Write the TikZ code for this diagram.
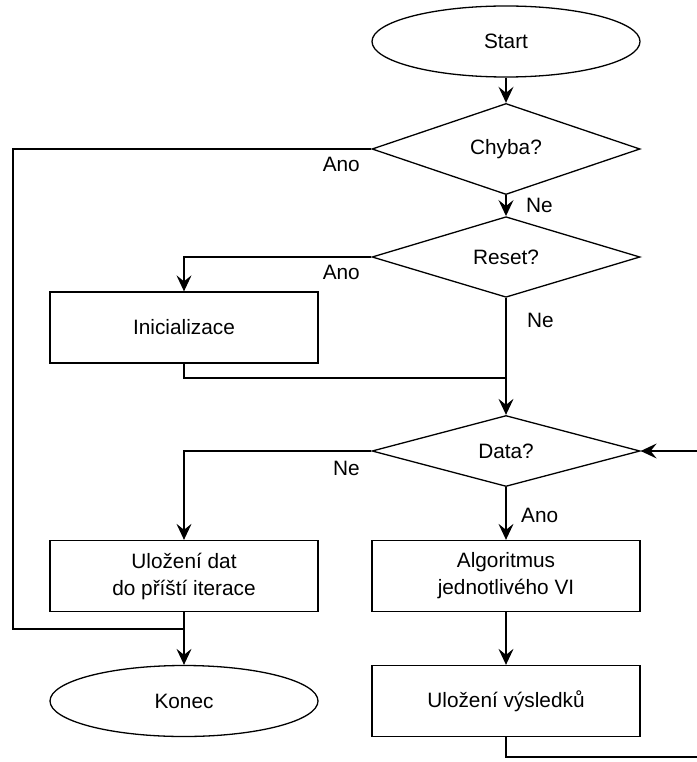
\documentclass[tikz,border=0pt]{standalone}
\usepackage{fontspec}
\setmainfont{Liberation Sans}
\usetikzlibrary{shapes.geometric,arrows.meta}
\begin{document}
\begin{tikzpicture}[x=1pt,y=-1pt,
  every node/.style={font=\fontsize{20.8}{27}\selectfont},
  base/.style={draw=black,line width=1.3pt,minimum width=268pt,minimum height=71pt,inner sep=0pt,align=center},
  term/.style={base,ellipse},
  dec/.style={base,diamond},
  proc/.style={base,rectangle},
  lbl/.style={inner sep=0pt},
  conn/.style={line width=1.3pt},
  arr/.style={conn,-{Stealth[length=16pt,width=15pt,inset=6pt]}}]
\useasboundingbox (0,0) rectangle (696,762);
\node[term] (start) at (506,41.5) {Start};
\node[dec] (chyba) at (506,149) {Chyba?};
\node[dec] (reset) at (506,257) {Reset?};
\node[proc] (init) at (184,327.5) {Inicializace};
\node[dec] (data) at (506,451) {Data?};
\node[proc] (ulozdat) at (184,576) {Uložení dat\\do příští iterace};
\node[proc] (alg) at (506,576) {Algoritmus\\jednotlivého VI};
\node[term] (konec) at (184,701) {Konec};
\node[proc] (vysl) at (506,701) {Uložení výsledků};

\coordinate (cl1) at (13,149);
\coordinate (cl2) at (13,629);
\coordinate (cj) at (184,629);
\coordinate (ij) at (506,378);
\coordinate (vb) at (506,757);
\coordinate (vr) at (702,757);
\coordinate (vt) at (702,451);

\draw[arr] (start) -- (chyba);
\draw[arr] (chyba) -- (reset);
\draw[arr] (reset.west) -| (init.north);
\draw[arr] (reset.south) -- (data.north);
\draw[conn] (init.south) |- (ij);
\draw[arr] (data.west) -| (ulozdat.north);
\draw[arr] (data.south) -- (alg.north);
\draw[arr] (ulozdat.south) -- (konec.north);
\draw[arr] (alg.south) -- (vysl.north);
\draw[conn] (chyba.west) -- (cl1) -- (cl2) -- (cj);
\draw[arr] (vysl.south) -- (vb) -- (vr) -- (vt) -- (data.east);

\node[lbl,anchor=east] (l1) at (360,164) {Ano};
\node[lbl,anchor=west] (l2) at (526,205) {Ne};
\node[lbl,anchor=east] (l3) at (360,272) {Ano};
\node[lbl,anchor=west] (l4) at (527,320) {Ne};
\node[lbl,anchor=east] (l5) at (360,468) {Ne};
\node[lbl,anchor=west] (l6) at (521,515) {Ano};
\end{tikzpicture}
\end{document}
